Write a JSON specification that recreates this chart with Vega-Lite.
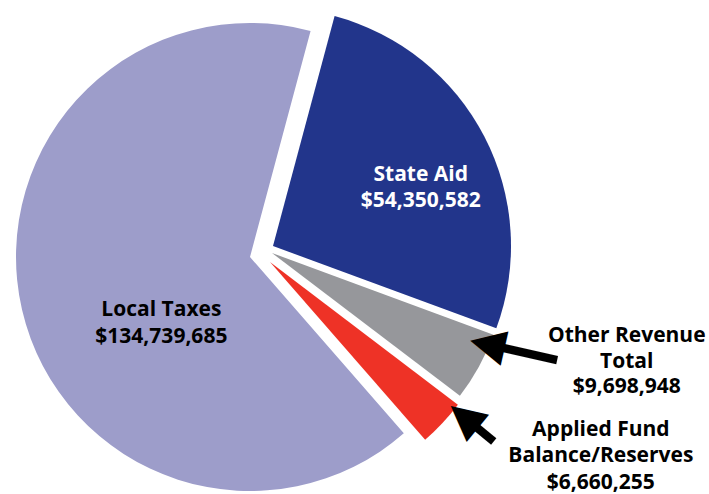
{
  "$schema": "https://vega.github.io/schema/vega-lite/v6.json",
  "width": 500,
  "height": 474,
  "autosize": {"type": "none"},
  "padding": {"left": 0, "top": 20, "right": 209, "bottom": 0},
  "background": "white",
  "config": {"view": {"stroke": null}},
  "data": {
    "values": [
      {"category": "State Aid", "amount": 54350582, "label": ["State Aid", "$54,350,582"]},
      {"category": "Other Revenue Total", "amount": 9698948, "label": ["Other Revenue", "Total", "$9,698,948"]},
      {"category": "Applied Fund Balance/Reserves", "amount": 6660255, "label": ["Applied Fund", "Balance/Reserves", "$6,660,255"]},
      {"category": "Local Taxes", "amount": 134739685, "label": ["Local Taxes", "$134,739,685"]}
    ]
  },
  "transform": [{"stack": "amount", "groupby": [], "as": ["start", "end"]}],
  "layer": [
    {
      "transform": [{"filter": "datum.category === 'Local Taxes'"}],
      "mark": {"type": "arc", "outerRadius": 234, "color": "#9d9dca"},
      "encoding": {
        "theta": {"field": "start", "type": "quantitative", "scale": {"domain": [0, 205449470], "range": [0.2618, 6.545]}},
        "theta2": {"field": "end"}
      }
    },
    {
      "transform": [{"filter": "datum.category === 'State Aid'"}],
      "mark": {"type": "arc", "outerRadius": 238, "xOffset": 23, "yOffset": -11, "color": "#22358b"},
      "encoding": {
        "theta": {"field": "start", "type": "quantitative", "scale": {"domain": [0, 205449470], "range": [0.2618, 6.545]}},
        "theta2": {"field": "end"}
      }
    },
    {
      "transform": [{"filter": "datum.category === 'Other Revenue Total'"}],
      "mark": {"type": "arc", "outerRadius": 236, "xOffset": 22, "yOffset": -4, "color": "#96979b"},
      "encoding": {
        "theta": {"field": "start", "type": "quantitative", "scale": {"domain": [0, 205449470], "range": [0.2618, 6.545]}},
        "theta2": {"field": "end"}
      }
    },
    {
      "transform": [{"filter": "datum.category === 'Applied Fund Balance/Reserves'"}],
      "mark": {"type": "arc", "outerRadius": 236, "xOffset": 20, "yOffset": 5, "color": "#ee3226"},
      "encoding": {
        "theta": {"field": "start", "type": "quantitative", "scale": {"domain": [0, 205449470], "range": [0.2618, 6.545]}},
        "theta2": {"field": "end"}
      }
    },
    {
      "mark": {"type": "text", "radius": 190, "dx": 2, "dy": 11, "align": "center", "baseline": "alphabetic", "font": "Open Sans", "fontWeight": "bold", "fontSize": 21, "lineHeight": 26, "color": "white"},
      "encoding": {
        "theta": {"field": "amount", "type": "quantitative", "stack": true, "scale": {"domain": [0, 205449470], "range": [0.2618, 6.545]}},
        "order": {"field": "start", "type": "quantitative"},
        "text": {"condition": {"test": "datum.category === 'State Aid'", "field": "label"}, "value": ""}
      }
    },
    {
      "mark": {"type": "text", "radius": 92, "dx": 1, "dy": 38, "align": "center", "baseline": "alphabetic", "font": "Open Sans", "fontWeight": "bold", "fontSize": 21, "lineHeight": 27, "color": "black"},
      "encoding": {
        "theta": {"field": "amount", "type": "quantitative", "stack": true, "scale": {"domain": [0, 205449470], "range": [0.2618, 6.545]}},
        "order": {"field": "start", "type": "quantitative"},
        "text": {"condition": {"test": "datum.category === 'Local Taxes'", "field": "label"}, "value": ""}
      }
    },
    {
      "mark": {"type": "text", "radius": 400, "dx": 26, "dy": -107, "align": "center", "baseline": "alphabetic", "font": "Open Sans", "fontWeight": "bold", "fontSize": 21, "lineHeight": 25.5, "color": "black"},
      "encoding": {
        "theta": {"field": "amount", "type": "quantitative", "stack": true, "scale": {"domain": [0, 205449470], "range": [0.2618, 6.545]}},
        "order": {"field": "start", "type": "quantitative"},
        "text": {"condition": {"test": "datum.category === 'Other Revenue Total'", "field": "label"}, "value": ""}
      }
    },
    {
      "mark": {"type": "text", "radius": 420, "dx": 44, "dy": -108, "align": "center", "baseline": "alphabetic", "font": "Open Sans", "fontWeight": "bold", "fontSize": 21, "lineHeight": 26.5, "color": "black"},
      "encoding": {
        "theta": {"field": "amount", "type": "quantitative", "stack": true, "scale": {"domain": [0, 205449470], "range": [0.2618, 6.545]}},
        "order": {"field": "start", "type": "quantitative"},
        "text": {"condition": {"test": "datum.category === 'Applied Fund Balance/Reserves'", "field": "label"}, "value": ""}
      }
    },
    {
      "mark": {"type": "text", "radius": 290, "dx": 14, "dy": -49, "angle": 12.7, "align": "center", "baseline": "middle", "font": "DejaVu Sans", "fontWeight": "bold", "fontSize": 66, "color": "black"},
      "encoding": {
        "theta": {"field": "amount", "type": "quantitative", "stack": true, "scale": {"domain": [0, 205449470], "range": [0.2618, 6.545]}},
        "order": {"field": "start", "type": "quantitative"},
        "text": {"condition": {"test": "datum.category === 'Other Revenue Total'", "value": "—"}, "value": ""}
      }
    },
    {
      "mark": {"type": "text", "radius": 248.5, "dx": 12, "dy": -37.3, "angle": 12.7, "align": "center", "baseline": "middle", "font": "DejaVu Sans", "fontSize": 46, "color": "black"},
      "encoding": {
        "theta": {"field": "amount", "type": "quantitative", "stack": true, "scale": {"domain": [0, 205449470], "range": [0.2618, 6.545]}},
        "order": {"field": "start", "type": "quantitative"},
        "text": {"condition": {"test": "datum.category === 'Other Revenue Total'", "value": "◀"}, "value": ""}
      }
    },
    {
      "mark": {"type": "text", "radius": 291, "dx": 2.1, "dy": -32.7, "angle": 39.4, "align": "center", "baseline": "middle", "font": "DejaVu Sans", "fontWeight": "bold", "fontSize": 66, "color": "black"},
      "encoding": {
        "theta": {"field": "amount", "type": "quantitative", "stack": true, "scale": {"domain": [0, 205449470], "range": [0.2618, 6.545]}},
        "order": {"field": "start", "type": "quantitative"},
        "text": {"condition": {"test": "datum.category === 'Applied Fund Balance/Reserves'", "value": "–"}, "value": ""}
      }
    },
    {
      "mark": {"type": "text", "radius": 264.4, "dx": 3.3, "dy": -31.1, "angle": 39.4, "align": "center", "baseline": "middle", "font": "DejaVu Sans", "fontSize": 46, "color": "black"},
      "encoding": {
        "theta": {"field": "amount", "type": "quantitative", "stack": true, "scale": {"domain": [0, 205449470], "range": [0.2618, 6.545]}},
        "order": {"field": "start", "type": "quantitative"},
        "text": {"condition": {"test": "datum.category === 'Applied Fund Balance/Reserves'", "value": "◀"}, "value": ""}
      }
    }
  ]
}
